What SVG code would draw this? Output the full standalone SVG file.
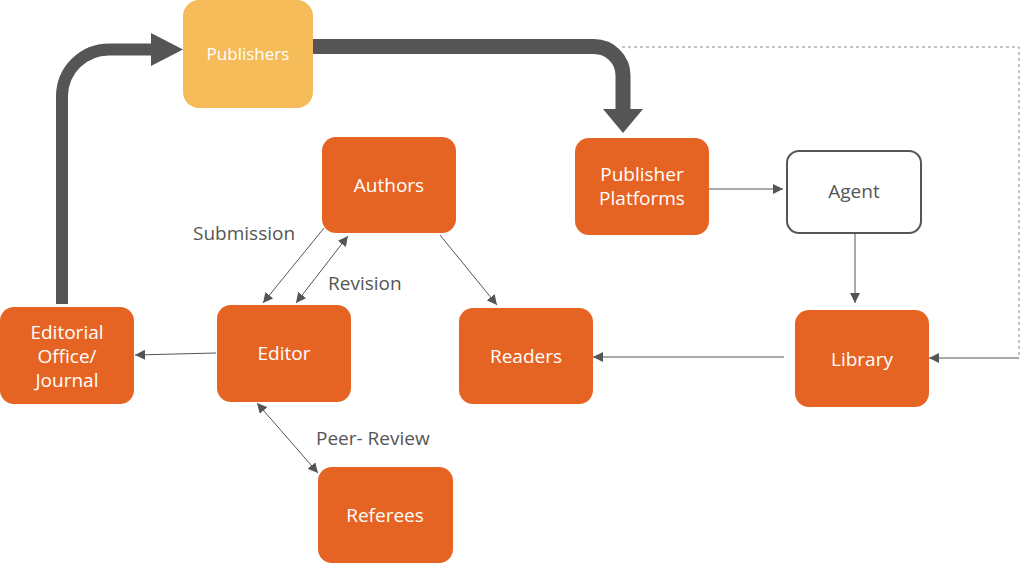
<svg xmlns="http://www.w3.org/2000/svg" width="1024" height="564" viewBox="0 0 1024 564">
<defs>
<style>
.box{fill:#E66423;}
.t{font-family:"Open Sans","Liberation Sans",sans-serif;font-size:19px;fill:#ffffff;text-anchor:middle;}
.lbl{font-family:"Open Sans","Liberation Sans",sans-serif;font-size:19px;fill:#555555;}
.thin{fill:none;stroke:#555555;stroke-width:1;}
.thick{fill:none;stroke:#555555;}
</style>
<marker id="ah" viewBox="0 0 10 10" refX="10" refY="5" markerWidth="10" markerHeight="10" markerUnits="userSpaceOnUse" orient="auto-start-reverse">
<path d="M0,0 L10,5 L0,10 Z" fill="#555555"/>
</marker>
</defs>
<rect width="1024" height="564" fill="#ffffff"/>
<g id="connectors">
<path class="thick" stroke-width="12" d="M62,304 V96 A47,47 0 0 1 109,49.5 H152"/>
<path d="M151,33 L183,49.5 L151,66 Z" fill="#555555"/>
<path class="thick" stroke-width="15" d="M313,46.5 H594 A29,29 0 0 1 623,75.5 V110"/>
<path d="M603,109 L643,109 L623,133 Z" fill="#555555"/>
<path d="M622,47 H1019 V357" fill="none" stroke="#888888" stroke-width="1" stroke-dasharray="3,3"/>
<line class="thin" x1="1019" y1="358" x2="929" y2="358" marker-end="url(#ah)"/>
<line class="thin" x1="324" y1="228" x2="263" y2="303" marker-end="url(#ah)"/>
<line class="thin" x1="296" y1="303" x2="348" y2="236" marker-start="url(#ah)" marker-end="url(#ah)"/>
<line class="thin" x1="440" y1="235" x2="497" y2="305" marker-end="url(#ah)"/>
<line class="thin" x1="216" y1="353" x2="135" y2="355" marker-end="url(#ah)"/>
<line class="thin" x1="257" y1="403" x2="318" y2="473" marker-start="url(#ah)" marker-end="url(#ah)"/>
<line class="thin" x1="709" y1="189" x2="783" y2="189" marker-end="url(#ah)"/>
<line class="thin" x1="855" y1="234" x2="855" y2="303" marker-end="url(#ah)"/>
<line class="thin" x1="784" y1="357" x2="593" y2="357" marker-end="url(#ah)"/>
</g>
<g id="publishers"><rect x="183" y="0" width="130" height="108" rx="16" fill="#F5BC59"/><text class="t" x="248" y="60" style="font-size:17px">Publishers</text></g>
<g id="authors"><rect class="box" x="322" y="137" width="134" height="96" rx="14"/><text class="t" x="389" y="192">Authors</text></g>
<g id="editor"><rect class="box" x="217" y="305" width="134" height="97" rx="14"/><text class="t" x="284" y="360">Editor</text></g>
<g id="editorial"><rect class="box" x="0" y="307" width="134" height="97" rx="14"/><text class="t" x="67" y="339">Editorial</text><text class="t" x="67" y="363">Office/</text><text class="t" x="67" y="387">Journal</text></g>
<g id="readers"><rect class="box" x="459" y="308" width="134" height="96" rx="14"/><text class="t" x="526" y="363">Readers</text></g>
<g id="referees"><rect class="box" x="318" y="467" width="135" height="96" rx="14"/><text class="t" x="385" y="522">Referees</text></g>
<g id="platforms"><rect class="box" x="575" y="138" width="134" height="97" rx="14"/><text class="t" x="642" y="181">Publisher</text><text class="t" x="642" y="205">Platforms</text></g>
<g id="agent"><rect x="787" y="151" width="134" height="82" rx="12" fill="#ffffff" stroke="#555555" stroke-width="2"/><text class="t" x="854" y="198" style="fill:#555555">Agent</text></g>
<g id="library"><rect class="box" x="795" y="310" width="134" height="97" rx="14"/><text class="t" x="862" y="366">Library</text></g>
<g id="labels">
<text class="lbl" x="193" y="240">Submission</text>
<text class="lbl" x="328" y="290">Revision</text>
<text class="lbl" x="316" y="445">Peer- Review</text>
</g>
</svg>
